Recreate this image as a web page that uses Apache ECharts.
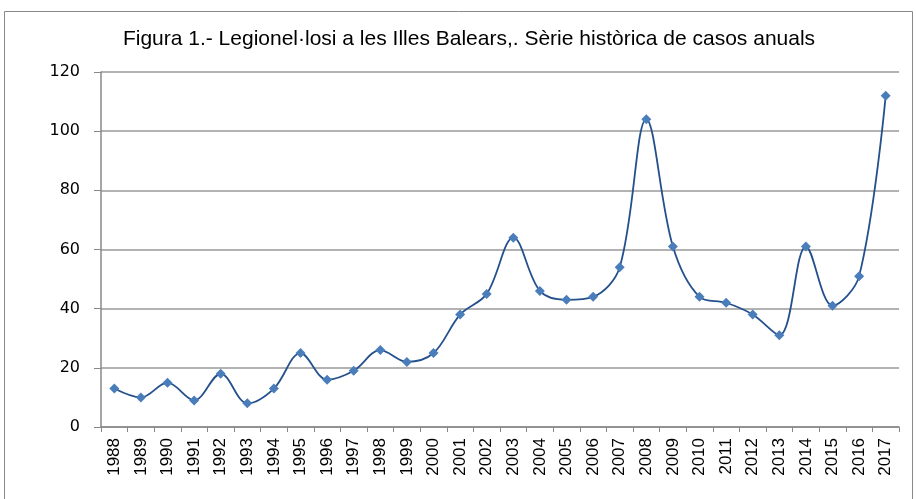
<!DOCTYPE html>
<html>
<head>
<meta charset="utf-8">
<script src="https://cdn.jsdelivr.net/npm/echarts@6/dist/echarts.min.js"></script>
<style>
  html, body { margin: 0; padding: 0; background: #fff; }
  #main { width: 916px; height: 499px; }
</style>
</head>
<body>
<div id="main"></div>
<script>
var years = ['1988','1989','1990','1991','1992','1993','1994','1995','1996','1997',
             '1998','1999','2000','2001','2002','2003','2004','2005','2006','2007',
             '2008','2009','2010','2011','2012','2013','2014','2015','2016','2017'];
var casos = [13, 10, 15, 9, 18, 8, 13, 25, 16, 19,
             26, 22, 25, 38, 45, 64, 46, 43, 44, 54,
             104, 61, 44, 42, 38, 31, 61, 41, 51, 112];
var titol = 'Figura 1.- Legionel·losi a les Illes Balears,. Sèrie històrica de casos anuals';

var myChart = echarts.init(document.getElementById('main'));

var option = {
    animation: false,
    backgroundColor: '#fff',
    title: {
        text: titol,
        left: 464,
        top: 24,
        textAlign: 'center',
        textStyle: {
            fontFamily: 'Liberation Sans',
            fontWeight: 'normal',
            fontSize: 21,
            color: '#000'
        }
    },
    graphic: [{
        type: 'rect',
        shape: { x: 4.5, y: 11.5, width: 908, height: 520 },
        style: { fill: 'none', stroke: '#888', lineWidth: 1 },
        silent: true
    }],
    grid: { left: 101, right: 17, top: 72, bottom: 72 },
    xAxis: {
        type: 'category',
        data: years,
        boundaryGap: true,
        axisLine: { lineStyle: { color: '#888', width: 1.5 } },
        axisTick: { show: true, length: 5, lineStyle: { color: '#888' } },
        axisLabel: {
            rotate: 90,
            interval: 0,
            fontFamily: 'Liberation Sans',
            fontSize: 17,
            color: '#000',
            margin: 11
        }
    },
    yAxis: {
        type: 'value',
        min: 0,
        max: 120,
        interval: 20,
        axisLine: { show: true, lineStyle: { color: '#888', width: 1.5 } },
        axisTick: { show: true, length: 7, lineStyle: { color: '#888' } },
        axisLabel: {
            fontFamily: 'DejaVu Sans',
            fontSize: 16,
            color: '#000',
            margin: 21
        },
        splitLine: { lineStyle: { color: '#999', width: 1.5 } }
    },
    series: [{
        name: 'casos',
        type: 'line',
        data: casos,
        smooth: 0.35,
        symbol: 'diamond',
        symbolSize: 10,
        lineStyle: { color: '#24508c', width: 1.8 },
        itemStyle: { color: '#4a7ebb' }
    }]
};

myChart.setOption(option);
</script>
</body>
</html>
